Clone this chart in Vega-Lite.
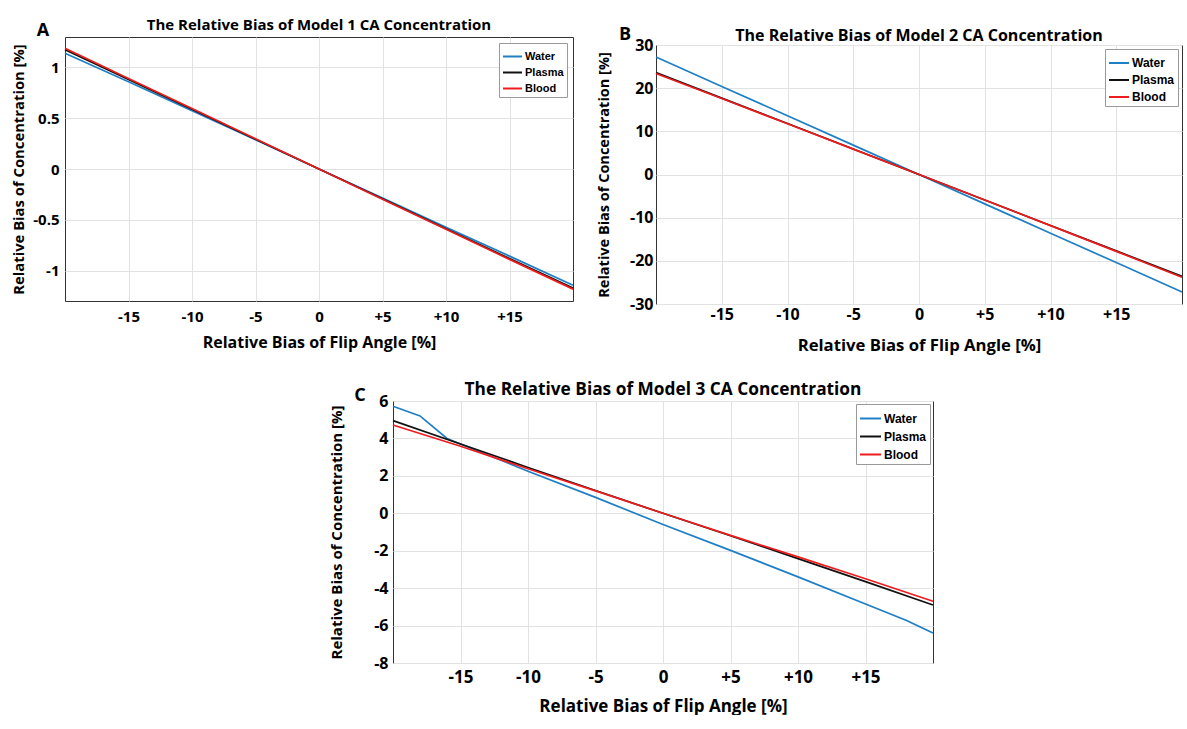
{
  "$schema": "https://vega.github.io/schema/vega-lite/v6.json",
  "background": "white",
  "padding": {"left": 11, "top": 17, "right": 0, "bottom": 0},
  "config": {
    "view": {"stroke": "#333", "strokeWidth": 1},
    "axis": {"grid": true, "gridColor": "#e2e2e2", "gridWidth": 1, "ticks": false, "domain": false,
             "labelFont": "Open Sans", "labelFontWeight": "bold", "labelColor": "#000", "labelOverlap": false, "labelFlush": false, "labelBound": false,
             "titleFont": "Open Sans", "titleFontWeight": "bold", "titleColor": "#000"},
    "title": {"font": "Open Sans", "fontWeight": "bold", "color": "#000", "anchor": "middle", "frame": "group"},
    "legend": {"title": null, "orient": "top-right", "symbolType": "stroke", "symbolStrokeWidth": 2,
               "labelFont": "Liberation Sans", "labelFontWeight": "bold", "labelColor": "#000",
               "labelOffset": 2, "padding": 3, "fillColor": "#fff", "strokeColor": "#9a9a9a", "cornerRadius": 0}
  },
  "datasets": {
    "model1": [
      {"fluid": "Water", "angle": -20, "bias": 1.14}, {"fluid": "Water", "angle": -15, "bias": 0.86},
      {"fluid": "Water", "angle": -10, "bias": 0.575}, {"fluid": "Water", "angle": -5, "bias": 0.288},
      {"fluid": "Water", "angle": 0, "bias": 0}, {"fluid": "Water", "angle": 5, "bias": -0.287},
      {"fluid": "Water", "angle": 10, "bias": -0.573}, {"fluid": "Water", "angle": 15, "bias": -0.858},
      {"fluid": "Water", "angle": 20, "bias": -1.145},
      {"fluid": "Plasma", "angle": -20, "bias": 1.175}, {"fluid": "Plasma", "angle": -15, "bias": 0.882},
      {"fluid": "Plasma", "angle": -10, "bias": 0.588}, {"fluid": "Plasma", "angle": -5, "bias": 0.294},
      {"fluid": "Plasma", "angle": 0, "bias": 0}, {"fluid": "Plasma", "angle": 5, "bias": -0.294},
      {"fluid": "Plasma", "angle": 10, "bias": -0.588}, {"fluid": "Plasma", "angle": 15, "bias": -0.882},
      {"fluid": "Plasma", "angle": 20, "bias": -1.172},
      {"fluid": "Blood", "angle": -20, "bias": 1.19}, {"fluid": "Blood", "angle": -15, "bias": 0.892},
      {"fluid": "Blood", "angle": -10, "bias": 0.595}, {"fluid": "Blood", "angle": -5, "bias": 0.297},
      {"fluid": "Blood", "angle": 0, "bias": 0}, {"fluid": "Blood", "angle": 5, "bias": -0.297},
      {"fluid": "Blood", "angle": 10, "bias": -0.594}, {"fluid": "Blood", "angle": 15, "bias": -0.89},
      {"fluid": "Blood", "angle": 20, "bias": -1.183}
    ],
    "model2": [
      {"fluid": "Water", "angle": -20, "bias": 27.2}, {"fluid": "Water", "angle": -15, "bias": 20.4},
      {"fluid": "Water", "angle": -10, "bias": 13.6}, {"fluid": "Water", "angle": -5, "bias": 6.8},
      {"fluid": "Water", "angle": 0, "bias": 0}, {"fluid": "Water", "angle": 5, "bias": -6.8},
      {"fluid": "Water", "angle": 10, "bias": -13.6}, {"fluid": "Water", "angle": 15, "bias": -20.4},
      {"fluid": "Water", "angle": 20, "bias": -27.2},
      {"fluid": "Plasma", "angle": -20, "bias": 23.6}, {"fluid": "Plasma", "angle": -15, "bias": 17.7},
      {"fluid": "Plasma", "angle": -10, "bias": 11.8}, {"fluid": "Plasma", "angle": -5, "bias": 5.9},
      {"fluid": "Plasma", "angle": 0, "bias": 0}, {"fluid": "Plasma", "angle": 5, "bias": -5.9},
      {"fluid": "Plasma", "angle": 10, "bias": -11.8}, {"fluid": "Plasma", "angle": 15, "bias": -17.7},
      {"fluid": "Plasma", "angle": 20, "bias": -23.6},
      {"fluid": "Blood", "angle": -20, "bias": 23.4}, {"fluid": "Blood", "angle": -15, "bias": 17.6},
      {"fluid": "Blood", "angle": -10, "bias": 11.75}, {"fluid": "Blood", "angle": -5, "bias": 5.87},
      {"fluid": "Blood", "angle": 0, "bias": 0}, {"fluid": "Blood", "angle": 5, "bias": -5.9},
      {"fluid": "Blood", "angle": 10, "bias": -11.85}, {"fluid": "Blood", "angle": 15, "bias": -17.8},
      {"fluid": "Blood", "angle": 20, "bias": -23.8}
    ],
    "model3": [
      {"fluid": "Water", "angle": -20, "bias": 5.72}, {"fluid": "Water", "angle": -18, "bias": 5.2},
      {"fluid": "Water", "angle": -16, "bias": 4.0}, {"fluid": "Water", "angle": -15, "bias": 3.7},
      {"fluid": "Water", "angle": -10, "bias": 2.25}, {"fluid": "Water", "angle": -5, "bias": 0.85},
      {"fluid": "Water", "angle": 0, "bias": -0.6}, {"fluid": "Water", "angle": 5, "bias": -1.98},
      {"fluid": "Water", "angle": 10, "bias": -3.4}, {"fluid": "Water", "angle": 15, "bias": -4.85},
      {"fluid": "Water", "angle": 18, "bias": -5.72}, {"fluid": "Water", "angle": 20, "bias": -6.4},
      {"fluid": "Plasma", "angle": -20, "bias": 4.95}, {"fluid": "Plasma", "angle": -15, "bias": 3.7},
      {"fluid": "Plasma", "angle": -10, "bias": 2.45}, {"fluid": "Plasma", "angle": -5, "bias": 1.22},
      {"fluid": "Plasma", "angle": 0, "bias": 0}, {"fluid": "Plasma", "angle": 5, "bias": -1.2},
      {"fluid": "Plasma", "angle": 10, "bias": -2.42}, {"fluid": "Plasma", "angle": 15, "bias": -3.65},
      {"fluid": "Plasma", "angle": 20, "bias": -4.9},
      {"fluid": "Blood", "angle": -20, "bias": 4.72}, {"fluid": "Blood", "angle": -15, "bias": 3.58},
      {"fluid": "Blood", "angle": -10, "bias": 2.38}, {"fluid": "Blood", "angle": -5, "bias": 1.2},
      {"fluid": "Blood", "angle": 0, "bias": 0}, {"fluid": "Blood", "angle": 5, "bias": -1.18},
      {"fluid": "Blood", "angle": 10, "bias": -2.33}, {"fluid": "Blood", "angle": 15, "bias": -3.5},
      {"fluid": "Blood", "angle": 20, "bias": -4.7}
    ]
  },
  "spacing": 25,
  "resolve": {"scale": {"color": "independent"}, "legend": {"color": "independent"}},
  "vconcat": [
    {
      "spacing": 19,
      "resolve": {"scale": {"color": "independent"}, "legend": {"color": "independent"}},
      "hconcat": [
        {
          "width": 508, "height": 264,
          "data": {"name": "model1"},
          "title": {"text": "The Relative Bias of Model 1 CA Concentration", "fontSize": 15, "offset": 4, "dy": 15},
          "layer": [
            {
              "mark": {"type": "line", "strokeWidth": 1.7},
              "encoding": {
                "x": {"field": "angle", "type": "quantitative", "scale": {"domain": [-20, 20], "nice": false, "zero": false},
                      "axis": {"values": [-15, -10, -5, 0, 5, 10, 15], "tickCount": 7, "labelExpr": "datum.value > 0 ? '+' + datum.value : '' + datum.value", "labelOverlap": false,
                               "title": "Relative Bias of Flip Angle [%]", "labelFontSize": 15, "titleFontSize": 16, "labelPadding": 8, "titlePadding": 10}},
                "y": {"field": "bias", "type": "quantitative", "scale": {"domain": [-1.3, 1.3], "nice": false, "zero": false},
                      "axis": {"values": [-1, -0.5, 0, 0.5, 1], "tickCount": 5, "labelExpr": "'' + datum.value", "labelOverlap": false,
                               "title": "Relative Bias of Concentration [%]", "labelFontSize": 15, "titleFontSize": 14.8, "labelPadding": 6, "titlePadding": 6}},
                "color": {"field": "fluid", "type": "nominal", "scale": {"domain": ["Water", "Plasma", "Blood"], "range": ["#1f7fc4", "#111111", "#ee1c1c"]},
                          "legend": {"offset": 6, "symbolSize": 361, "labelFontSize": 11, "rowPadding": -8}}
              }
            },
            {
              "data": {"values": [{}]},
              "mark": {"type": "text", "text": "A", "font": "Open Sans", "fontSize": 18, "fontWeight": "bold", "align": "center", "baseline": "alphabetic", "dx": -22, "dy": -1},
              "encoding": {"x": {"datum": -20}, "y": {"datum": 1.3}}
            }
          ]
        },
        {
          "spacing": -13,
          "resolve": {"scale": {"color": "independent"}, "legend": {"color": "independent"}},
          "vconcat": [
            {"width": 1, "height": 1, "data": {"values": []}, "mark": "point", "view": {"stroke": null}},
            {
              "width": 526, "height": 259,
              "data": {"name": "model2"},
              "title": {"text": "The Relative Bias of Model 2 CA Concentration", "fontSize": 16, "offset": 4, "dy": 22},
              "layer": [
                {
                  "mark": {"type": "line", "strokeWidth": 1.7},
                  "encoding": {
                    "x": {"field": "angle", "type": "quantitative", "scale": {"domain": [-20, 20], "nice": false, "zero": false},
                          "axis": {"values": [-15, -10, -5, 0, 5, 10, 15], "tickCount": 7, "labelExpr": "datum.value > 0 ? '+' + datum.value : '' + datum.value", "labelOverlap": false,
                                   "title": "Relative Bias of Flip Angle [%]", "labelFontSize": 16, "titleFontSize": 16.7, "labelPadding": 2, "titlePadding": 15}},
                    "y": {"field": "bias", "type": "quantitative", "scale": {"domain": [-30, 30], "nice": false, "zero": false},
                          "axis": {"values": [-30, -20, -10, 0, 10, 20, 30], "tickCount": 7, "labelExpr": "'' + datum.value", "labelOverlap": false,
                                   "title": "Relative Bias of Concentration [%]", "labelFontSize": 16, "titleFontSize": 14.5, "labelPadding": 3, "titlePadding": 18}},
                    "color": {"field": "fluid", "type": "nominal", "scale": {"domain": ["Water", "Plasma", "Blood"], "range": ["#1f7fc4", "#111111", "#ee1c1c"]},
                              "legend": {"offset": 4, "symbolSize": 400, "labelFontSize": 12, "rowPadding": -8}}
                  }
                },
                {
                  "data": {"values": [{}]},
                  "mark": {"type": "text", "text": "B", "font": "Open Sans", "fontSize": 18, "fontWeight": "bold", "align": "center", "baseline": "alphabetic", "dx": -31, "dy": -5},
                  "encoding": {"x": {"datum": -20}, "y": {"datum": 30}}
                }
              ]
            }
          ]
        }
      ]
    },
    {
      "spacing": 0,
      "resolve": {"scale": {"color": "independent"}, "legend": {"color": "independent"}},
      "hconcat": [
        {"width": 264, "height": 1, "data": {"values": []}, "mark": "point", "view": {"stroke": null}},
        {
          "width": 540, "height": 262,
          "data": {"name": "model3"},
          "title": {"text": "The Relative Bias of Model 3 CA Concentration", "fontSize": 17.3, "offset": 4, "dy": 15},
          "layer": [
            {
              "mark": {"type": "line", "strokeWidth": 1.7},
              "encoding": {
                "x": {"field": "angle", "type": "quantitative", "scale": {"domain": [-20, 20], "nice": false, "zero": false},
                      "axis": {"values": [-15, -10, -5, 0, 5, 10, 15], "tickCount": 7, "labelExpr": "datum.value > 0 ? '+' + datum.value : '' + datum.value", "labelOverlap": false,
                               "title": "Relative Bias of Flip Angle [%]", "labelFontSize": 17, "titleFontSize": 17, "labelPadding": 6, "titlePadding": 13}},
                "y": {"field": "bias", "type": "quantitative", "scale": {"domain": [-8, 6], "nice": false, "zero": false},
                      "axis": {"values": [-8, -6, -4, -2, 0, 2, 4, 6], "tickCount": 8, "labelExpr": "'' + datum.value", "labelOverlap": false,
                               "title": "Relative Bias of Concentration [%]", "labelFontSize": 16, "titleFontSize": 15, "labelPadding": 5, "titlePadding": 29}},
                "color": {"field": "fluid", "type": "nominal", "scale": {"domain": ["Water", "Plasma", "Blood"], "range": ["#1f7fc4", "#111111", "#ee1c1c"]},
                          "legend": {"offset": 3, "symbolSize": 441, "labelFontSize": 12, "rowPadding": -9}}
              }
            },
            {
              "data": {"values": [{}]},
              "mark": {"type": "text", "text": "C", "font": "Open Sans", "fontSize": 18, "fontWeight": "bold", "align": "center", "baseline": "alphabetic", "dx": -33, "dy": 0},
              "encoding": {"x": {"datum": -20}, "y": {"datum": 6}}
            }
          ]
        }
      ]
    }
  ]
}
